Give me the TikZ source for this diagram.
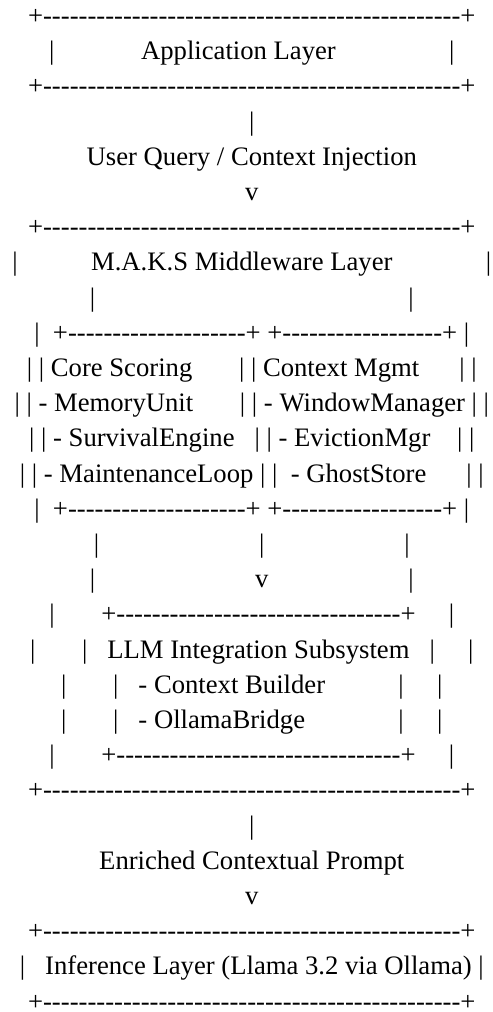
\documentclass[tikz,border=0pt]{standalone}
\usepackage{fontspec}
\newfontfamily\asc{Liberation Serif}
\newcommand\SP[1]{\kern#1\fontdimen2\font\relax}
\newcommand\DS[1]{\foreach\k in {1,...,#1}{-\kern0pt}}
\begin{document}
\begin{tikzpicture}[x=0.75pt,y=-0.75pt,
  asciiline/.style={inner sep=0pt, outer sep=0pt, anchor=base, text=black,
    font=\asc\fontsize{20}{24}\selectfont}]
\useasboundingbox (0,0) rectangle (492,1012);
\def\cx{251.8}
\def\ly#1{24.5+35.2*(#1-1)}
\node[asciiline] (l1)  at (\cx,{\ly{1}})  {+\DS{47}+};
\node[asciiline] (l2)  at (\cx,{\ly{2}})  {|\SP{13}Application Layer\SP{17}|};
\node[asciiline] (l3)  at (\cx,{\ly{3}})  {+\DS{47}+};
\node[asciiline] (l4)  at (\cx,{\ly{4}})  {|};
\node[asciiline] (l5)  at (\cx,{\ly{5}})  {User Query / Context Injection};
\node[asciiline] (l6)  at (\cx,{\ly{6}})  {v};
\node[asciiline] (l7)  at (\cx,{\ly{7}})  {+\DS{47}+};
\node[asciiline] (l8)  at (\cx,{\ly{8}})  {|\SP{11}M.A.K.S Middleware Layer\SP{14}|};
\node[asciiline] (l9)  at (\cx,{\ly{9}})  {|\SP{47}|};
\node[asciiline] (l10) at (\cx,{\ly{10}}) {|\SP2+\DS{20}+\SP1+\DS{18}+\SP1|};
\node[asciiline] (l11) at (\cx,{\ly{11}}) {|\SP1|\SP1Core Scoring\SP7|\SP1|\SP1Context Mgmt\SP6|\SP1|};
\node[asciiline] (l12) at (\cx,{\ly{12}}) {|\SP1|\SP1-\SP1MemoryUnit\SP7|\SP1|\SP1-\SP1WindowManager\SP1|\SP1|};
\node[asciiline] (l13) at (\cx,{\ly{13}}) {|\SP1|\SP1-\SP1SurvivalEngine\SP3|\SP1|\SP1-\SP1EvictionMgr\SP4|\SP1|};
\node[asciiline] (l14) at (\cx,{\ly{14}}) {|\SP1|\SP1-\SP1MaintenanceLoop\SP1|\SP1|\SP2-\SP1GhostStore\SP6|\SP1|};
\node[asciiline] (l15) at (\cx,{\ly{15}}) {|\SP2+\DS{20}+\SP1+\DS{18}+\SP1|};
\node[asciiline] (l16) at (\cx,{\ly{16}}) {|\SP{24}|\SP{21}|};
\node[asciiline] (l17) at (\cx,{\ly{17}}) {|\SP{24}v\SP{21}|};
\node[asciiline] (l18) at (\cx,{\ly{18}}) {|\SP7+\DS{32}+\SP5|};
\node[asciiline] (l19) at (\cx,{\ly{19}}) {|\SP7|\SP3LLM Integration Subsystem\SP3|\SP5|};
\node[asciiline] (l20) at (\cx,{\ly{20}}) {|\SP7|\SP3-\SP1Context Builder\SP{11}|\SP5|};
\node[asciiline] (l21) at (\cx,{\ly{21}}) {|\SP7|\SP3-\SP1OllamaBridge\SP{14}|\SP5|};
\node[asciiline] (l22) at (\cx,{\ly{22}}) {|\SP7+\DS{32}+\SP5|};
\node[asciiline] (l23) at (\cx,{\ly{23}}) {+\DS{47}+};
\node[asciiline] (l24) at (\cx,{\ly{24}}) {|};
\node[asciiline] (l25) at (\cx,{\ly{25}}) {Enriched Contextual Prompt};
\node[asciiline] (l26) at (\cx,{\ly{26}}) {v};
\node[asciiline] (l27) at (\cx,{\ly{27}}) {+\DS{47}+};
\node[asciiline] (l28) at (\cx,{\ly{28}}) {|\SP3Inference Layer (Llama 3.2 via Ollama)\SP1|};
\node[asciiline] (l29) at (\cx,{\ly{29}}) {+\DS{47}+};
\end{tikzpicture}
\end{document}
